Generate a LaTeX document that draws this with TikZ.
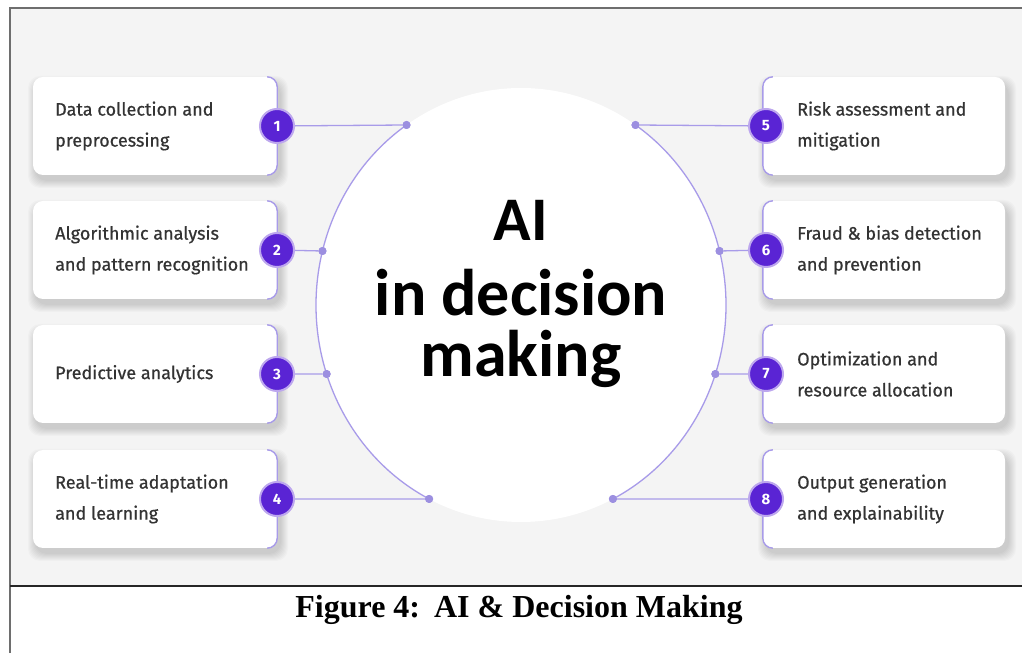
\documentclass[tikz,border=0pt]{standalone}
\usepackage{fontspec}
\newfontfamily\cardfont{Fira Sans}[FakeBold=0.7]
\newfontfamily\numfont{Fira Sans}
\newfontfamily\titlefont{Carlito}
\newfontfamily\capfont{Liberation Serif}
\usetikzlibrary{calc}
\definecolor{bg}{HTML}{F4F4F4}
\definecolor{badgec}{HTML}{5A24D4}
\definecolor{linec}{HTML}{A89BE9}
\definecolor{dotc}{HTML}{9C8FE0}
\definecolor{txt}{HTML}{333333}
\definecolor{framec}{HTML}{6E6E6E}
\tikzset{
  x=1pt, y=1pt,
  cardbox/.style={fill=white, rounded corners=10pt, minimum width=#1, minimum height=98pt, inner sep=0pt},
  bracket/.style={draw=linec, line width=1.4pt, rounded corners=10pt},
  conn/.style={draw=linec, line width=1.3pt},
  dotnode/.style={circle, fill=dotc, minimum size=8pt, inner sep=0pt},
  badge/.style={circle, fill=badgec, draw=badgec!40, line width=2pt, minimum size=34pt, inner sep=0pt, text=white, font=\numfont\bfseries\fontsize{15}{15}\selectfont},
  cardtext/.style={anchor=west, align=left, text=txt, inner sep=0pt, font=\cardfont\fontsize{18}{31}\selectfont},
  titletext/.style={align=center, text=black, inner sep=0pt},
}
\newcommand\softshadow[4]{%
  \foreach \s in {1,...,8}{%
    \fill[black, opacity=0.018, rounded corners=12pt]
      (#1-#3/2-\s+3, #2-#4/2-\s-5) rectangle (#1+#3/2+\s+3, #2+#4/2+\s-7);
  }%
}
\begin{document}
\begin{tikzpicture}
\useasboundingbox (0,0) rectangle (1022,653);
% background and frame
\fill[white] (0,0) rectangle (1022,653);
\fill[bg] (11,67) rectangle (1022,644);
\draw[framec, line width=2pt] (10,0) -- (10,645) -- (1022,645);
\draw[black!85, line width=2.5pt] (10,67) -- (1022,67);
% central ellipse
\coordinate (C) at (521,348);
\fill[white] (C) ellipse [x radius=205, y radius=217];
% left side
\foreach \n/\y/\a/\t in {1/527/123.95/{Data collection and\\preprocessing},
                          2/403/165.59/{Algorithmic analysis\\and pattern recognition},
                          3/279/198.54/{Predictive analytics},
                          4/154/243.37/{Real-time adaptation\\and learning}}{
  \softshadow{155}{\y}{244}{98}
  \node[cardbox=244pt] (c\n) at (155,\y) {};
  \draw[bracket] ($(c\n.north east)+(-10,0)$) -- (c\n.north east) -- (c\n.south east) -- ($(c\n.south east)+(-10,0)$);
  \node[cardtext] (t\n) at (55,\y) {\t};
  \node[dotnode] (d\n) at ($(C)+(\a:205 and 217)$) {};
  \node[badge] (b\n) at (277,\y) {\n};
  \draw[conn] (b\n) -- (d\n);
}
% right side
\foreach \n/\y/\a/\t in {5/527/56.05/{Risk assessment and\\mitigation},
                          6/403/14.41/{Fraud \& bias detection\\and prevention},
                          7/279/-18.54/{Optimization and\\resource allocation},
                          8/154/-63.37/{Output generation\\and explainability}}{
  \softshadow{884}{\y}{242}{98}
  \node[cardbox=242pt] (c\n) at (884,\y) {};
  \draw[bracket] ($(c\n.north west)+(10,0)$) -- (c\n.north west) -- (c\n.south west) -- ($(c\n.south west)+(10,0)$);
  \node[cardtext] (t\n) at (797,\y) {\t};
  \node[dotnode] (d\n) at ($(C)+(\a:205 and 217)$) {};
  \node[badge] (b\n) at (766,\y) {\n};
  \draw[conn] (b\n) -- (d\n);
}
% arcs of the ellipse between the dots
\draw[conn] (d1.center) arc[start angle=123.95, end angle=243.37, x radius=205, y radius=217];
\draw[conn] (d5.center) arc[start angle=56.05, end angle=-63.37, x radius=205, y radius=217];
% redraw dots on top
\foreach \n in {1,...,8}{ \fill[dotc] (d\n.center) circle (4); }
% title
\node[titletext, anchor=base, font=\titlefont\bfseries\fontsize{66}{61}\selectfont] (ttl) at (521,276)
  {{\fontsize{62}{61}\selectfont AI}\\[14pt]in decision\\making};
% caption
\node[anchor=base, inner sep=0pt, font=\capfont\bfseries\fontsize{32}{36}\selectfont] (cap) at (519,36) {Figure 4:\hspace{14pt}AI \& Decision Making};
\end{tikzpicture}
\end{document}
